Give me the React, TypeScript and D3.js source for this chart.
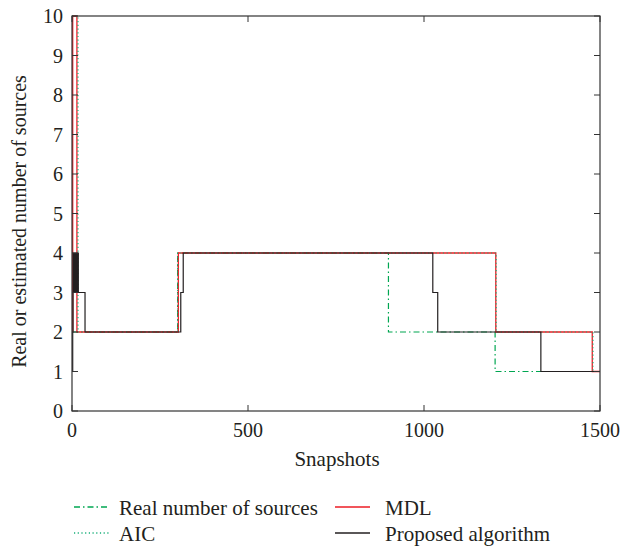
import React from "react";
import * as d3 from "d3";

const xTicks = [0, 500, 1000, 1500];
const yTicks = [0, 1, 2, 3, 4, 5, 6, 7, 8, 9, 10];

// step-after change points: [snapshot, value]
const realSources: [number, number][] = [[0, 2], [300, 4], [899, 2], [1202, 1], [1500, 1]];
const aic: [number, number][] = [[0, 10], [17, 2], [300, 4], [1205, 2], [1480, 1], [1500, 1]];
const mdl: [number, number][] = [[0, 2], [2, 10], [14, 2], [302, 4], [1204, 2], [1478, 1], [1500, 1]];
const proposed: [number, number][] = [
  [0, 1], [2, 2], [3, 4], [5, 3], [7, 4], [9, 3], [11, 4], [13, 3], [15, 4], [18, 3],
  [37, 2], [309, 3], [316, 4], [1025, 3], [1039, 2], [1332, 1], [1500, 1],
];

const legendLabels = ["Real number of sources", "AIC", "MDL", "Proposed algorithm"];

const GREEN = "#00a651";
const GREEN_DOT = "#19b07a";
const RED = "#ed1c24";
const BLACK = "#231f20";
const FONT = "Liberation Serif";

export default function App() {
  const W = 627, H = 546;
  const x = d3.scaleLinear().domain([0, 1500]).range([72, 600]);
  const y = d3.scaleLinear().domain([0, 10]).range([411, 16]);
  const line = d3.line<[number, number]>().x(d => x(d[0])).y(d => y(d[1])).curve(d3.curveStepAfter);

  const series = [
    { data: realSources, color: GREEN, dash: "6,3,1.5,3", w: 1.2 },
    { data: mdl, color: RED, dash: undefined, w: 1.3 },
    { data: aic, color: GREEN_DOT, dash: "1.2,2.5", w: 1.2 },
    { data: proposed, color: BLACK, dash: undefined, w: 1.2 },
  ];

  const legend = [
    { label: legendLabels[0], color: GREEN, dash: "6,3,1.5,3", lx: 74, tx: 119, ly: 507 },
    { label: legendLabels[1], color: GREEN_DOT, dash: "1.2,2.5", lx: 74, tx: 119, ly: 533 },
    { label: legendLabels[2], color: RED, dash: undefined, lx: 335, tx: 385, ly: 507 },
    { label: legendLabels[3], color: BLACK, dash: undefined, lx: 335, tx: 385, ly: 533 },
  ];

  const [x0, x1] = x.range();
  const [y0, y1] = y.range();
  const ts = { fontFamily: FONT, fontSize: "20px", fill: "#231f20" } as React.CSSProperties;
  const ts21 = { ...ts, fontSize: "21px" } as React.CSSProperties;

  return (
    <svg width={W} height={H} style={{ position: "absolute", left: 0, top: 0, background: "#fff" }}>
      {series.map((s, i) => (
        <path key={i} d={line(s.data) || ""} fill="none" stroke={s.color} strokeWidth={s.w}
          strokeDasharray={s.dash} />
      ))}
      <rect x={x0} y={y1} width={x1 - x0} height={y0 - y1} fill="none" stroke="#333" strokeWidth={1.2} />
      {xTicks.map(t => (
        <g key={"x" + t}>
          <line x1={x(t)} x2={x(t)} y1={y0} y2={y0 - 6} stroke="#333" />
          <line x1={x(t)} x2={x(t)} y1={y1} y2={y1 + 6} stroke="#333" />
          <text x={x(t)} y={y0 + 26} textAnchor="middle" style={ts}>{t}</text>
        </g>
      ))}
      {yTicks.map(t => (
        <g key={"y" + t}>
          <line x1={x0} x2={x0 + 6} y1={y(t)} y2={y(t)} stroke="#333" />
          <line x1={x1} x2={x1 - 6} y1={y(t)} y2={y(t)} stroke="#333" />
          <text x={x0 - 9} y={y(t) + 7} textAnchor="end" style={ts}>{t}</text>
        </g>
      ))}
      <text x={337} y={466} textAnchor="middle" style={ts21}>Snapshots</text>
      <text transform={`translate(26,${(y0 + y1) / 2 + 8}) rotate(-90)`} textAnchor="middle" style={ts}>
        Real or estimated number of sources
      </text>
      {legend.map((l, i) => (
        <g key={i}>
          <line x1={l.lx} x2={l.lx + 35} y1={l.ly} y2={l.ly} stroke={l.color} strokeWidth={1.3} strokeDasharray={l.dash} />
          <text x={l.tx} y={l.ly + 8} style={ts21}>{l.label}</text>
        </g>
      ))}
    </svg>
  );
}
